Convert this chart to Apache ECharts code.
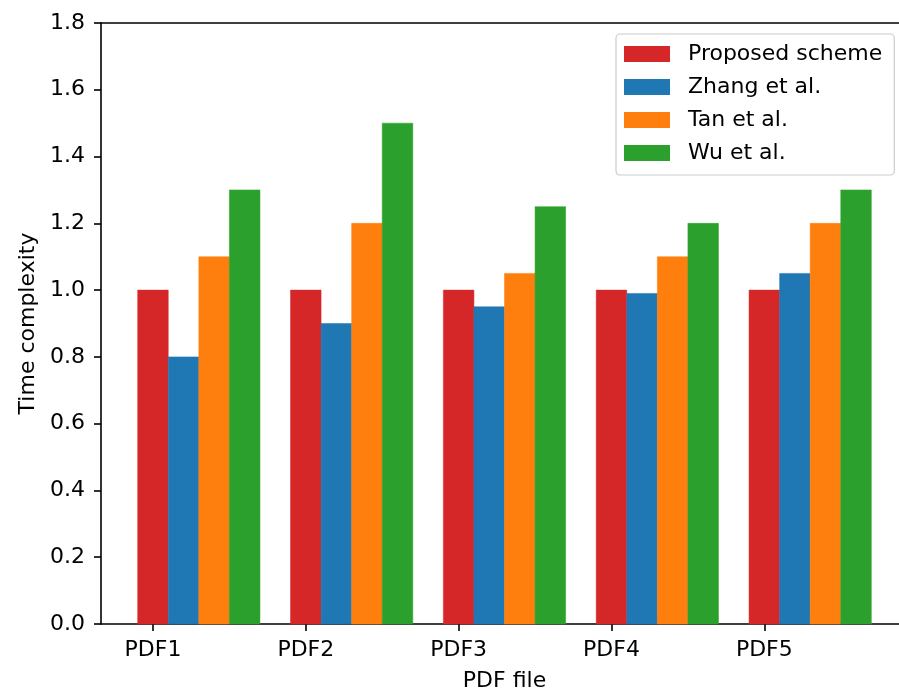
<!DOCTYPE html>
<html>
<head>
<meta charset="utf-8">
<script src="https://cdn.jsdelivr.net/npm/echarts@6/dist/echarts.min.js"></script>
<style>
  html, body { margin: 0; padding: 0; background: #fff; overflow: hidden; }
  #chart { width: 899px; height: 690px; }
</style>
</head>
<body>
<div id="chart"></div>
<script>
const categories = ['PDF1', 'PDF2', 'PDF3', 'PDF4', 'PDF5'];
const seriesNames = ['Proposed scheme', 'Zhang et al.', 'Tan et al.', 'Wu et al.'];
const proposed = [1.0, 1.0, 1.0, 1.0, 1.0];
const zhang = [0.8, 0.9, 0.95, 0.99, 1.05];
const tan = [1.1, 1.2, 1.05, 1.1, 1.2];
const wu = [1.3, 1.5, 1.25, 1.2, 1.3];
const yTicks = [0, 0.2, 0.4, 0.6, 0.8, 1.0, 1.2, 1.4, 1.6, 1.8];

const colors = ['#d62728', '#1f77b4', '#ff7f0e', '#2ca02c'];
const allValues = [proposed, zhang, tan, wu];
const barW = 0.2;
const font = 'DejaVu Sans';
const fs = 22;

function renderBar(params, api) {
  const x = api.value(0), y = api.value(1);
  const p0 = api.coord([x - barW / 2, y]);
  const p1 = api.coord([x + barW / 2, 0]);
  return {
    type: 'rect',
    shape: { x: p0[0], y: p0[1], width: p1[0] - p0[0], height: p1[1] - p0[1] },
    style: { fill: api.visual('color'), stroke: api.visual('color'), lineWidth: 0.5 }
  };
}

const series = allValues.map((vals, k) => ({
  name: seriesNames[k],
  type: 'custom',
  renderItem: renderBar,
  itemStyle: { color: colors[k] },
  encode: { x: 0, y: 1 },
  xAxisIndex: 0,
  data: vals.map((v, i) => [i + k * barW, v]),
  z: 2
}));

const chart = echarts.init(document.getElementById('chart'), null, { renderer: 'canvas' });
chart.setOption({
  animation: false,
  backgroundColor: '#fff',
  textStyle: { fontFamily: font },
  grid: {
    left: 101, top: 23, width: 807, height: 601,
    outerBoundsMode: 'none', containLabel: false,
    show: false
  },
  legend: {
    orient: 'vertical',
    left: 616, top: 34,
    padding: [9, 12, 11, 8],
    itemWidth: 46, itemHeight: 16, itemGap: 11,
    icon: 'rect',
    borderColor: '#cccccc', borderWidth: 1.2, borderRadius: 4,
    backgroundColor: 'rgba(255,255,255,0.8)',
    textStyle: { fontFamily: font, fontSize: fs, color: '#000', lineHeight: 16, padding: [0, 0, 0, 13] },
    data: seriesNames
  },
  xAxis: [{
    type: 'value',
    min: -0.34, max: 4.94,
    name: 'PDF file', nameLocation: 'middle', nameGap: 46,
    nameTextStyle: { fontFamily: font, fontSize: fs, color: '#000' },
    splitLine: { show: false },
    axisLine: { show: true, onZero: false, lineStyle: { color: '#000', width: 1.6 } },
    axisTick: { show: true, length: 7, lineStyle: { color: '#000', width: 1.6 }, customValues: categories.map((c, i) => i) },
    axisLabel: {
      fontFamily: font, fontSize: fs, color: '#000', margin: 15,
      customValues: categories.map((c, i) => i),
      formatter: v => categories[Math.round(v)]
    }
  }, {
    type: 'value',
    position: 'top',
    min: -0.34, max: 4.94,
    splitLine: { show: false },
    axisLine: { show: true, onZero: false, lineStyle: { color: '#000', width: 1.6 } },
    axisTick: { show: false },
    axisLabel: { show: false }
  }],
  yAxis: {
    type: 'value',
    min: 0, max: 1.8, interval: 0.2,
    name: 'Time complexity', nameLocation: 'middle', nameGap: 62,
    nameTextStyle: { fontFamily: font, fontSize: fs, color: '#000' },
    splitLine: { show: false },
    axisLine: { show: true, onZero: false, lineStyle: { color: '#000', width: 1.6 } },
    axisTick: { show: true, length: 7, lineStyle: { color: '#000', width: 1.6 } },
    axisLabel: {
      fontFamily: font, fontSize: fs, color: '#000', margin: 16,
      customValues: yTicks,
      formatter: v => v.toFixed(1)
    }
  },
  series: series
});
</script>
</body>
</html>
